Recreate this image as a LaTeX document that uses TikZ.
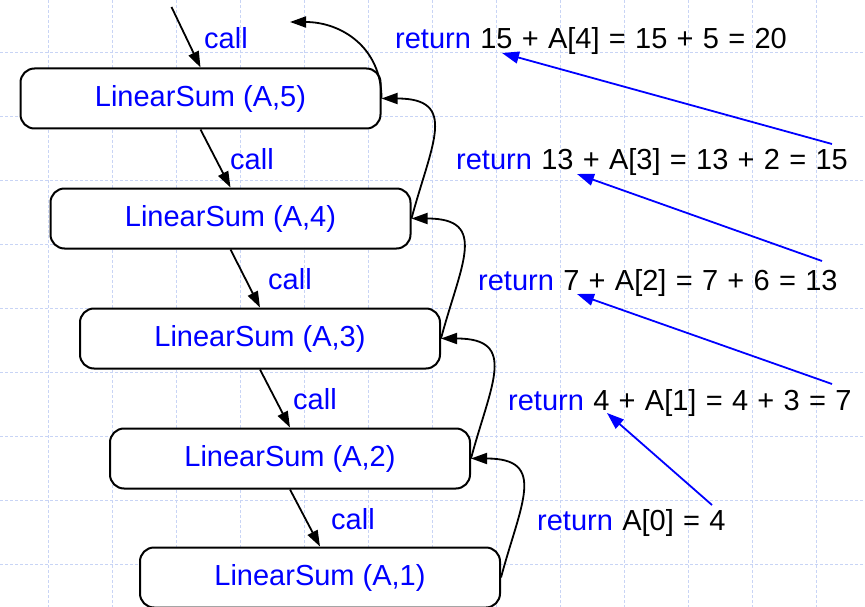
\documentclass[tikz,border=0pt]{standalone}
\usepackage{fontspec}
\setmainfont{Liberation Sans}
\usetikzlibrary{arrows.meta}
\definecolor{gridc}{RGB}{200,212,245}
\definecolor{txtblue}{RGB}{0,0,255}
\begin{document}
\begin{tikzpicture}[x=1pt,y=1pt,
  fnt/.style={font=\fontsize{29}{34}\selectfont},
  box/.style={draw=black, line width=2pt, fill=white, rounded corners=14pt,
    minimum width=360pt, minimum height=60pt, inner sep=0pt, text=txtblue, fnt},
  lbl/.style={anchor=base west, inner sep=0pt, fnt},
  retlbl/.style={anchor=base west, inner sep=0pt, fnt,
    execute at begin node={\spaceskip=9.3pt\relax}},
  callarrow/.style={draw=black, line width=1.8pt, -{Triangle[length=16pt,width=11pt]}},
  retarrow/.style={draw=black, line width=1.8pt, -{Triangle[length=16pt,width=11pt]}},
  bluearrow/.style={draw=txtblue, line width=1.8pt, -{Triangle[length=17pt,width=12pt]}},
  gridline/.style={draw=gridc, line width=0.8pt, dash pattern=on 3pt off 2pt}]
\useasboundingbox (0,0) rectangle (865,-607);
\fill[white] (0,0) rectangle (865,-607);
\foreach \gx in {48,112,...,816} \draw[gridline] (\gx,0) -- (\gx,-607);
\foreach \gy in {52,116,...,564} \draw[gridline] (0,-\gy) -- (865,-\gy);

% boxes
\node[box] (b5) at (200.5,-98.5) {LinearSum (A,5)};
\node[box] (b4) at (230.5,-218.5) {LinearSum (A,4)};
\node[box] (b3) at (260,-338.5) {LinearSum (A,3)};
\node[box] (b2) at (290,-458.5) {LinearSum (A,2)};
\node[box] (b1) at (320,-577.5) {LinearSum (A,1)};

% call labels
\node[lbl, text=txtblue] (c5) at (204,-49) {call};
\node[lbl, text=txtblue] (c4) at (230,-169) {call};
\node[lbl, text=txtblue] (c3) at (268,-289) {call};
\node[lbl, text=txtblue] (c2) at (293,-409) {call};
\node[lbl, text=txtblue] (c1) at (331,-529) {call};

% return labels
\node[retlbl] (r5) at (395,-49) {\textcolor{txtblue}{return} 15 + A[4] = 15 + 5 = 20};
\node[retlbl] (r4) at (456,-170) {\textcolor{txtblue}{return} 13 + A[3] = 13 + 2 = 15};
\node[retlbl] (r3) at (478,-290) {\textcolor{txtblue}{return} 7 + A[2] = 7 + 6 = 13};
\node[retlbl] (r2) at (508,-410) {\textcolor{txtblue}{return} 4 + A[1] = 4 + 3 = 7};
\node[retlbl] (r1) at (537,-530) {\textcolor{txtblue}{return} A[0] = 4};

% call arrows
\coordinate (in) at (171.5,-7);
\draw[callarrow] (in) -- (b5.north);
\draw[callarrow] (b5.south) -- (b4.north);
\draw[callarrow] (b4.south) -- (b3.north);
\draw[callarrow] (b3.south) -- (b2.north);
\draw[callarrow] (b2.south) -- (b1.north);

% return arrows
\coordinate (out) at (290,-22);
\draw[retarrow] (b5.east) to[out=90,in=0,looseness=1.1] (out);
\draw[retarrow] (b4.east) to[out=75,in=0,looseness=1.6] (b5.east);
\draw[retarrow] (b3.east) to[out=75,in=0,looseness=1.6] (b4.east);
\draw[retarrow] (b2.east) to[out=75,in=0,looseness=1.6] (b3.east);
\draw[retarrow] (b1.east) to[out=75,in=0,looseness=1.6] (b2.east);

% blue value arrows
\coordinate (t1) at (502,-53);  \coordinate (s1) at (832,-144);
\coordinate (t2) at (577,-174); \coordinate (s2) at (822,-261);
\coordinate (t3) at (577,-294); \coordinate (s3) at (832,-384);
\coordinate (t4) at (607,-413); \coordinate (s4) at (712,-505);
\draw[bluearrow] (s1) -- (t1);
\draw[bluearrow] (s2) -- (t2);
\draw[bluearrow] (s3) -- (t3);
\draw[bluearrow] (s4) -- (t4);
\end{tikzpicture}
\end{document}
